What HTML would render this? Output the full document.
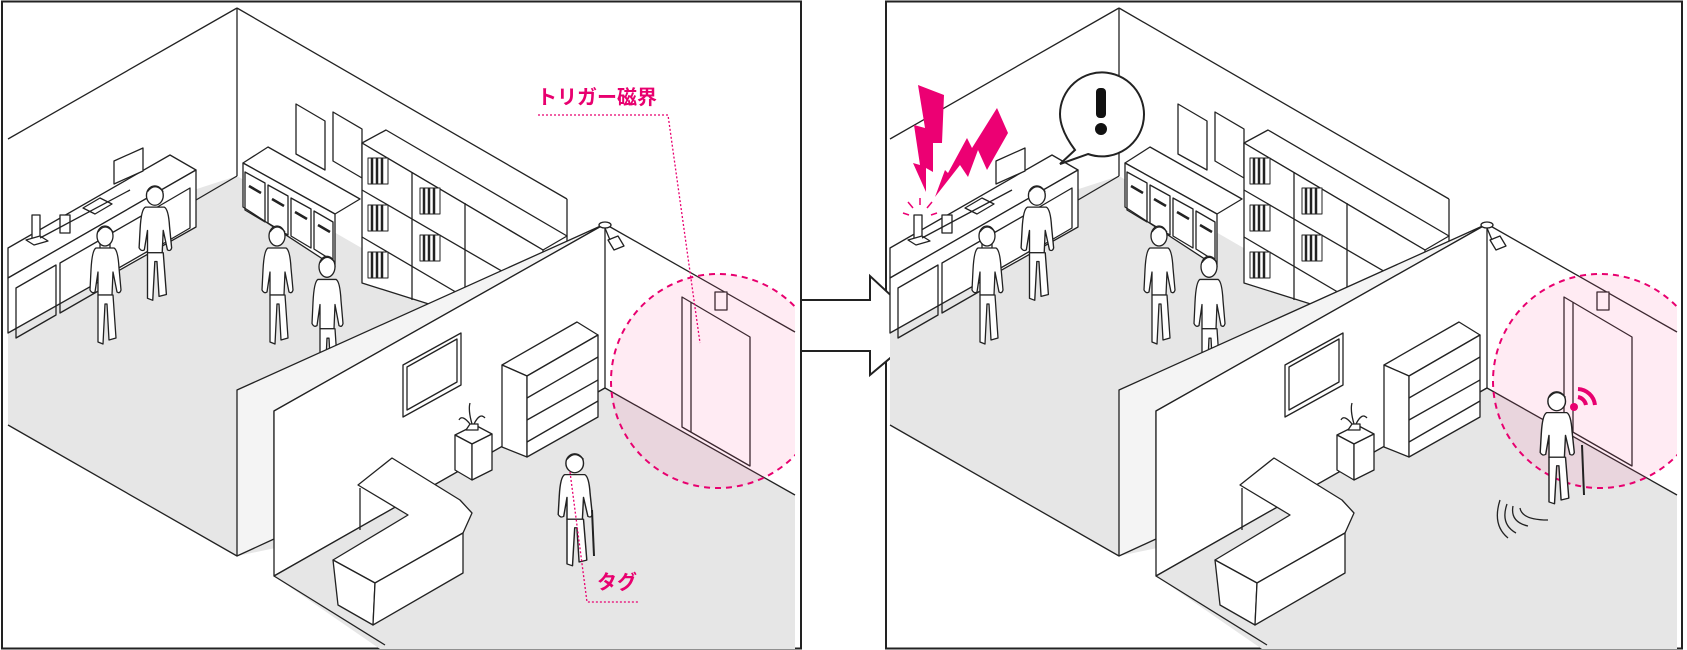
<!DOCTYPE html>
<html><head><meta charset="utf-8"><style>
html,body{margin:0;padding:0;background:#fff;}
svg{display:block;}
text{font-family:"Liberation Sans","Noto Sans CJK JP",sans-serif;font-weight:bold;}
</style></head><body>
<svg width="1687" height="650" viewBox="0 0 1687 650" xmlns="http://www.w3.org/2000/svg">
<defs>
<clipPath id="cl"><rect x="0" y="0" width="795" height="650"/></clipPath>
<g id="person" fill="#fff" stroke="#222" stroke-width="1.3" stroke-linejoin="round">
  <path d="M8 28 Q4 30 3 50 L2 70 Q4 74 7 72 L10 52 L10 75 L24 75 L25 52 L29 72 Q32 74 33 70 L31 48 Q30 30 26 28 Z"/>
  <path d="M10 75 L10 122 L15 124 L17 84 L19 84 L21 120 L28 118 L25 75 Z"/>
  <ellipse cx="17" cy="16" rx="8" ry="10"/>
  <path d="M10 12 Q17 2 25 12" fill="none"/>
</g>
<g id="books" fill="#fff" stroke="#222" stroke-width="1">
  <rect x="0" y="0" width="20" height="26"/>
  <line x1="4" y1="0" x2="4" y2="26" stroke-width="2.5"/>
  <line x1="9" y1="0" x2="9" y2="26" stroke-width="2.5"/>
  <line x1="14" y1="0" x2="14" y2="26" stroke-width="2.5"/>
</g>
<g id="room" stroke="#222" stroke-width="1.3" fill="none" stroke-linejoin="round">
  <polygon points="8,250 237,176 720,455 237,556 8,425" fill="#e6e6e6" stroke="none"/>
  <line x1="8" y1="139" x2="237" y2="8"/>
  <line x1="237" y1="8" x2="237" y2="176"/>
  <line x1="237" y1="8" x2="567" y2="199"/>
  <line x1="567" y1="199" x2="567" y2="250"/>
  <line x1="237" y1="176" x2="196" y2="200"/>
  <line x1="8" y1="425" x2="237" y2="556"/>
  <polygon points="296,104 325,121 325,170 296,154" fill="#fff"/>
  <polygon points="333,112 362,129 362,178 333,161" fill="#fff"/>
  <polygon points="8,248 170,155 196,170 8,278" fill="#fff"/>
  <polygon points="8,278 196,170 196,227 8,333" fill="#fff"/>
  <polygon points="16,288 56,265 56,315 16,338"/>
  <polygon points="60,263 100,240 100,290 60,313"/>
  <polygon points="110,234 150,211 150,250 110,273"/>
  <polygon points="154,209 190,188 190,228 154,249"/>
  <rect x="32" y="215" width="8" height="26" fill="#fff"/>
  <polygon points="26,240 40,236 48,241 34,245" fill="#fff"/>
  <rect x="60" y="215" width="10" height="18" fill="#fff"/>
  <polygon points="83,208 100,198 112,204 95,214" fill="#fff"/>
  <polygon points="114,161 143,148 143,171 114,184" fill="#fff"/>
  <line x1="40" y1="238" x2="130" y2="190"/>
  <polygon points="243,163 268,147 360,199 335,214" fill="#fff"/>
  <polygon points="243,163 335,214 335,267 243,207" fill="#fff"/>
  <polygon points="245,172 265,183 265,222 245,210"/>
  <polygon points="268,185 288,196 288,235 268,223"/>
  <polygon points="291,198 311,209 311,248 291,236"/>
  <polygon points="314,211 333,222 333,261 314,249"/>
  <line x1="249" y1="186" x2="261" y2="193" stroke-width="2.5"/>
  <line x1="272" y1="199" x2="284" y2="206" stroke-width="2.5"/>
  <line x1="295" y1="212" x2="307" y2="219" stroke-width="2.5"/>
  <line x1="318" y1="225" x2="330" y2="232" stroke-width="2.5"/>
  <polygon points="362,143 386,130 567,236 543,250" fill="#fff"/>
  <polygon points="362,143 543,250 543,340 362,283" fill="#fff"/>
  <line x1="362" y1="190" x2="543" y2="295"/>
  <line x1="362" y1="237" x2="500" y2="318"/>
  <line x1="412" y1="172" x2="412" y2="300"/>
  <line x1="465" y1="203" x2="465" y2="330"/>
  <use href="#books" transform="translate(368,158)"/><use href="#books" transform="translate(420,188)"/>
  <use href="#books" transform="translate(368,205)"/><use href="#books" transform="translate(420,235)"/>
  <use href="#books" transform="translate(368,252)"/>
  <use href="#person" transform="translate(88,220)"/>
  <use href="#person" transform="translate(137,180) scale(1.05,0.97)"/>
  <use href="#person" transform="translate(260,220)"/>
  <use href="#person" transform="translate(310,250) scale(1,1.05)"/>
  <polygon points="237,390 605,224 274,411 274,539 237,556" fill="#f4f4f4"/>
  <polygon points="274,411 605,224 605,388 274,576" fill="#fff"/>
  <polygon points="274,576 605,388 795,495 795,649 380,649" fill="#e6e6e6" stroke="none"/>
  <line x1="274" y1="576" x2="605" y2="388"/>
  <line x1="605" y1="388" x2="795" y2="495"/>
  <line x1="274" y1="576" x2="385" y2="645"/>
  <line x1="605" y1="224" x2="795" y2="332"/>
  <ellipse cx="605" cy="225" rx="6" ry="3" fill="#fff"/>
  <polygon points="608,240 618,236 624,246 614,250" fill="#fff"/>
  <line x1="605" y1="228" x2="610" y2="240"/>
  <polygon points="403,365 461,333 461,385 403,417" fill="#fff"/>
  <polygon points="407,367 457,339 457,382 407,410"/>
  <polygon points="502,365 577,322 598,335 527,376" fill="#fff"/>
  <polygon points="502,365 527,376 527,457 502,447" fill="#fff"/>
  <polygon points="527,376 598,335 598,417 527,457" fill="#fff"/>
  <line x1="527" y1="398" x2="598" y2="357"/>
  <line x1="527" y1="420" x2="598" y2="380"/>
  <line x1="527" y1="442" x2="598" y2="401"/>
  <polygon points="455,435 475,425 492,434 472,444" fill="#fff"/>
  <polygon points="455,435 472,444 472,480 455,470" fill="#fff"/>
  <polygon points="472,444 492,434 492,470 472,480" fill="#fff"/>
  <path d="M466 430 L470 424 L478 424 L478 430 Z M472 424 Q468 410 470 403 M474 424 Q480 412 485 418 M470 424 Q462 414 459 420" fill="#fff"/>
  <polygon points="358,485 392,458 460,500 472,513 463,533 375,583 333,560 408,515" fill="#fff"/>
  <polygon points="333,560 375,583 373,625 338,605" fill="#fff"/>
  <polygon points="375,583 463,533 463,573 373,625" fill="#fff"/>
  <line x1="360" y1="488" x2="360" y2="530"/>
  <polygon points="682,297 750,337 750,466 682,427" fill="#fff"/>
  <line x1="691" y1="302" x2="691" y2="432"/>
  <rect x="715" y="292" width="12" height="18" fill="#fff"/>
</g>
</defs>

<rect x="2" y="1.5" width="799" height="647" fill="#fff" stroke="#222" stroke-width="2"/>
<rect x="886" y="1.5" width="796" height="647" fill="#fff" stroke="#222" stroke-width="2"/>

<use href="#room"/>
<g clip-path="url(#cl)">
  <circle cx="718" cy="381" r="107" fill="#fc5aa0" fill-opacity="0.12" stroke="#e8006f" stroke-width="2" stroke-dasharray="6,5"/>
</g>
<use href="#person" transform="translate(556,448) scale(1.1,0.95)"/>
<line x1="592" y1="510" x2="594" y2="556" stroke="#222" stroke-width="2"/>
<text x="537" y="104" font-size="20" fill="#e8006f">トリガー磁界</text>
<polyline points="538,115 668,115 700,343" fill="none" stroke="#e8006f" stroke-width="1.3" stroke-dasharray="2,2"/>
<text x="597" y="589" font-size="20" fill="#e8006f">タグ</text>
<polyline points="570,472 587,602 638,602" fill="none" stroke="#e8006f" stroke-width="1.3" stroke-dasharray="2,2"/>

<polygon points="801,300 870,300 870,276 926,328 870,375 870,351 801,351" fill="#fff" stroke="#222" stroke-width="2"/>

<g transform="translate(882,0)">
  <use href="#room"/>
  <g clip-path="url(#cl)">
    <circle cx="718" cy="381" r="107" fill="#fc5aa0" fill-opacity="0.12" stroke="#e8006f" stroke-width="2" stroke-dasharray="6,5"/>
  </g>
</g>
<use href="#person" transform="translate(1538,386) scale(1.1,0.95)"/>
<line x1="1582" y1="445" x2="1584" y2="495" stroke="#222" stroke-width="2"/>
<circle cx="1574" cy="407" r="4" fill="#e8006f"/>
<path d="M1578 397 A10 10 0 0 1 1586 405 M1578 389 A18 18 0 0 1 1595 405" fill="none" stroke="#e8006f" stroke-width="4"/>
<path d="M1500 500 Q1492 525 1508 538 M1507 504 Q1500 524 1516 533 M1513 506 Q1510 522 1528 526 M1520 508 Q1522 520 1548 520" fill="none" stroke="#222" stroke-width="1.3"/>
<polygon points="918,85 944,95 942,143 933,143 933,172 926,168 926,192 913,163 920,165 914,125 925,128" fill="#ec0073"/>
<polygon points="997,108 1008,133 987,170 978,150 968,177 960,165 935,197 945,170 948,173 967,138 972,148" fill="#ec0073"/>
<g stroke="#ec0073" stroke-width="1.5">
  <line x1="913" y1="208" x2="908" y2="202"/><line x1="920" y1="205" x2="920" y2="198"/>
  <line x1="927" y1="208" x2="932" y2="202"/><line x1="909" y1="215" x2="903" y2="213"/>
  <line x1="931" y1="215" x2="937" y2="213"/>
</g>
<path d="M1075 150 Q1060 130 1060 114 A42 42 0 1 1 1088 154 L1060 164 Z" fill="#fff" stroke="#222" stroke-width="2"/>
<rect x="1096" y="88" width="10" height="30" rx="4" fill="#111"/>
<circle cx="1101" cy="129" r="6" fill="#111"/>
</svg>
</body></html>
